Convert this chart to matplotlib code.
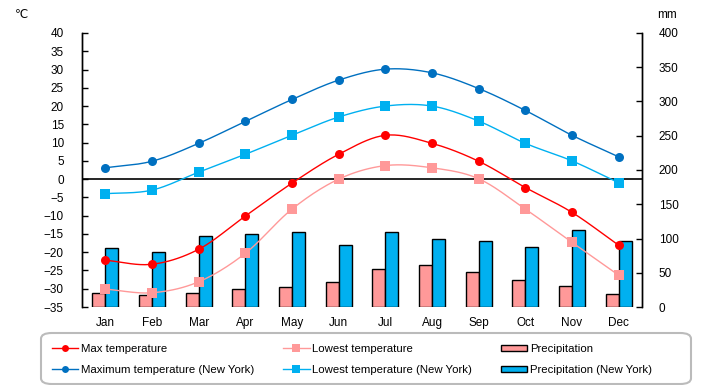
import numpy as np
import matplotlib
matplotlib.use("Agg")
import matplotlib.pyplot as plt
from matplotlib.lines import Line2D
from matplotlib.patches import Patch, FancyBboxPatch

plt.rcParams['font.family'] = ['Liberation Sans', 'DejaVu Sans']

months = ["Jan", "Feb", "Mar", "Apr", "May", "Jun", "Jul", "Aug", "Sep", "Oct", "Nov", "Dec"]
max_temp = [-22.2, -23.3, -19.2, -10.1, -1.1, 6.8, 12.0, 9.8, 4.9, -2.3, -9.1, -18.1]
low_temp = [-30.1, -31.1, -28.1, -20.3, -8.2, 0.0, 3.7, 3.1, 0.1, -8.2, -17.3, -26.3]
ny_max = [3.1, 4.9, 9.8, 15.8, 21.8, 27.1, 30.1, 29.1, 24.8, 18.8, 12.0, 6.1]
ny_low = [-4.0, -3.0, 1.9, 6.8, 12.0, 17.0, 20.0, 20.0, 15.9, 9.8, 5.0, -1.0]
precip = [20, 17, 20, 27, 29, 36, 56, 62, 51, 40, 30, 18.5]
ny_precip = [86, 81, 103, 106, 110, 91, 110, 100, 97, 88, 113, 97]

temp_ticks = list(range(-35, 41, 5))
mm_ticks = list(range(0, 401, 50))


def smooth(y, n=20):
    """Catmull-Rom curve through the points (drawing only)."""
    y = np.asarray(y, float)
    x = np.arange(len(y), dtype=float)
    P = np.vstack([x, y]).T
    P = np.vstack([P[0] - (P[1] - P[0]), P, P[-1] + (P[-1] - P[-2])])
    out = []
    t = np.linspace(0, 1, n, endpoint=False)[:, None]
    for i in range(1, len(P) - 2):
        p0, p1, p2, p3 = P[i - 1], P[i], P[i + 1], P[i + 2]
        seg = 0.5 * ((2 * p1) + (-p0 + p2) * t + (2 * p0 - 5 * p1 + 4 * p2 - p3) * t ** 2
                     + (-p0 + 3 * p1 - 3 * p2 + p3) * t ** 3)
        out.append(seg)
    out.append(P[-2][None, :])
    out = np.vstack(out)
    return out[:, 0], out[:, 1]


fig = plt.figure(figsize=(7.2, 3.85), dpi=100)
ax = fig.add_axes([82 / 720, 78 / 385, 560 / 720, 274 / 385])
ax2 = ax.twinx()

# bars on ax2 (behind), lines on ax (front)
ax.set_zorder(ax2.get_zorder() + 1)
ax.patch.set_visible(False)
ax2.patch.set_facecolor('#FFFFCC')

x = np.arange(len(months))
w = 0.28
ax2.bar(x - w / 2, precip, width=w, color='#FF9999', edgecolor='black', linewidth=1)
ax2.bar(x + w / 2, ny_precip, width=w, color='#00B0F0', edgecolor='black', linewidth=1)

series = [
    (ny_max, '#0070C0', 'o', 6.5, 'Maximum temperature (New York)'),
    (ny_low, '#00B0F0', 's', 6.5, 'Lowest temperature (New York)'),
    (max_temp, '#FF0000', 'o', 6.5, 'Max temperature'),
    (low_temp, '#FF9999', 's', 6.5, 'Lowest temperature'),
]
for vals, c, m, ms, lab in series:
    sx, sy = smooth(vals)
    ax.plot(sx, sy, color=c, lw=1)
    ax.plot(x, vals, linestyle='none', marker=m, color=c, markersize=ms, markeredgewidth=0)

ax.axhline(0, color='black', lw=1.2, zorder=1)

ax.set_xlim(-0.5, len(months) - 0.5)
ax.set_ylim(-35, 40)
ax2.set_ylim(0, 400)
ax.set_yticks(temp_ticks)
ax.set_yticklabels([str(t).replace('-', '\u2212') for t in temp_ticks])
ax2.set_yticks(mm_ticks)
ax.set_xticks(x)
ax.set_xticklabels(months)

ax.tick_params(axis='y', direction='in', length=4, width=1, pad=13, labelsize=8.5)
ax2.tick_params(axis='y', direction='in', length=4, width=1, pad=12, labelsize=8.5)
ax.tick_params(axis='x', length=0, pad=7, labelsize=8.5)

for a in (ax, ax2):
    a.spines['top'].set_visible(False)
    a.spines['bottom'].set_visible(False)
    a.spines['left'].set_linewidth(1)
    a.spines['right'].set_linewidth(1)

fig.text(22 / 720, 1 - 15 / 385, '\u2103', ha='center', va='center', fontsize=8.5,
         family=['DejaVu Sans'])
fig.text(667 / 720, 1 - 15 / 385, 'mm', ha='center', va='center', fontsize=8.5)

# legend
h = [
    Line2D([], [], color='#FF0000', marker='o', markersize=5, markeredgewidth=0, lw=1),
    Line2D([], [], color='#0070C0', marker='o', markersize=5, markeredgewidth=0, lw=1),
    Line2D([], [], color='#FF9999', marker='s', markersize=5.5, markeredgewidth=0, lw=1),
    Line2D([], [], color='#00B0F0', marker='s', markersize=5.5, markeredgewidth=0, lw=1),
    Patch(facecolor='#FF9999', edgecolor='black', linewidth=1),
    Patch(facecolor='#00B0F0', edgecolor='black', linewidth=1),
]
labels = ['Max temperature', 'Maximum temperature (New York)',
          'Lowest temperature', 'Lowest temperature (New York)',
          'Precipitation', 'Precipitation (New York)']
leg = fig.legend(h, labels, ncol=3, loc='center left',
                 bbox_to_anchor=(44 / 720, 1 - 359.5 / 385), frameon=False,
                 fontsize=8.2, handlelength=2.3, handleheight=0.5, handletextpad=0.25,
                 columnspacing=2.55, labelspacing=0.95, borderpad=0.2)

box = FancyBboxPatch((41 / 720, 1 - 384 / 385), (691 - 41) / 720, (384 - 333) / 385,
                     boxstyle='round,pad=0,rounding_size=0.015',
                     transform=fig.transFigure, facecolor='white', edgecolor='#BBBBBB',
                     linewidth=1.5, zorder=-1)
fig.patches.append(box)

fig.savefig('out.png', dpi=100)
